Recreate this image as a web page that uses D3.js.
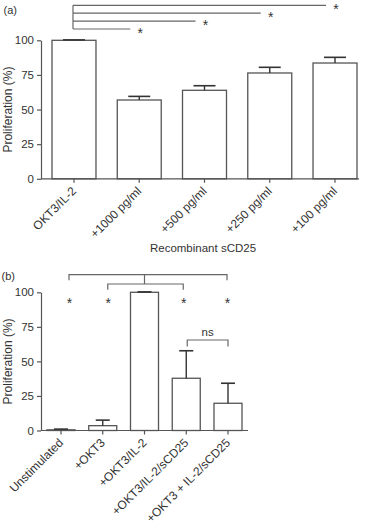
<!DOCTYPE html>
<html>
<head>
<meta charset="utf-8">
<script src="https://cdn.jsdelivr.net/npm/d3@7"></script>
<style>
body { margin: 0; background: #fff; }
svg text { font-family: "Liberation Sans", Arial, sans-serif; fill: #333; }
</style>
</head>
<body>
<svg id="chart" width="370" height="527"></svg>
<script>
var yTicks = [0, 25, 50, 75, 100];

// panel (a): recombinant sCD25 titration
var aCats = ['OKT3/IL-2', '+1000 pg/ml', '+500 pg/ml', '+250 pg/ml', '+100 pg/ml'];
var aVals = [100, 56.9, 63.9, 76.4, 83.6];
var aErr = [0.3, 2.6, 3.3, 4.1, 4.1];
var aSig = ['+100 pg/ml', '+250 pg/ml', '+500 pg/ml', '+1000 pg/ml']; // each vs OKT3/IL-2, top line first

// panel (b)
var bCats = ['Unstimulated', '+OKT3', '+OKT3/IL-2', '+OKT3/IL-2/sCD25', '+OKT3 + IL-2/sCD25'];
var bVals = [0.5, 3.5, 100, 37.8, 19.7];
var bErr = [0.5, 4, 0.3, 19.9, 14.5];
var bOuter = ['Unstimulated', '+OKT3 + IL-2/sCD25'];
var bInner = ['+OKT3', '+OKT3/IL-2/sCD25'];
var bNs = ['+OKT3/IL-2/sCD25', '+OKT3 + IL-2/sCD25'];

var svg = d3.select('#chart');
var lineCol = '#666';

var panel = function(o) {
  var g = svg.append('g');
  var y = d3.scaleLinear().domain([0, 100]).range([o.y0, o.y100]);
  var x = d3.scaleBand().domain(o.cats).range(o.barRange).paddingInner(o.pad).paddingOuter(0);
  var bw = x.bandwidth();
  var cx = function(c) { return x(c) + bw / 2; };

  g.selectAll('rect.bar')
    .data(o.vals)
    .enter().append('rect')
    .attr('class', 'bar')
    .attr('x', function(d, i) { return x(o.cats[i]); })
    .attr('y', function(d) { return y(d); })
    .attr('width', bw)
    .attr('height', function(d) { return y(0) - y(d); })
    .attr('fill', '#fff')
    .attr('stroke', '#555')
    .attr('stroke-width', 1.3);

  // error bars (upper only)
  o.vals.forEach(function(v, i) {
    var c = cx(o.cats[i]), top = y(v + o.err[i]);
    g.append('line').attr('x1', c).attr('x2', c).attr('y1', y(v)).attr('y2', top)
      .attr('stroke', '#333').attr('stroke-width', 1.4);
    g.append('line').attr('x1', c - bw / 4).attr('x2', c + bw / 4).attr('y1', top).attr('y2', top)
      .attr('stroke', '#333').attr('stroke-width', 1.6);
  });

  var ya = g.append('g')
    .attr('transform', 'translate(' + o.axisX + ',0)')
    .call(d3.axisLeft(y).tickValues(yTicks).tickSize(4).tickPadding(3).tickSizeOuter(0));
  ya.attr('font-family', null).attr('font-size', null).attr('color', '#555');
  ya.selectAll('path, line').attr('stroke-width', 1.2);
  ya.selectAll('text').style('font-size', '11.5px');

  // x baseline + ticks
  g.append('line').attr('x1', o.axisX).attr('x2', o.axisEnd).attr('y1', y(0)).attr('y2', y(0))
    .attr('stroke', '#555').attr('stroke-width', 1.2);
  o.cats.forEach(function(c) {
    g.append('line').attr('x1', cx(c)).attr('x2', cx(c)).attr('y1', y(0)).attr('y2', y(0) + 4)
      .attr('stroke', '#555').attr('stroke-width', 1.2);
    g.append('text')
      .attr('transform', 'translate(' + (cx(c) + 3) + ',' + (y(0) + 13) + ') rotate(-45)')
      .attr('text-anchor', 'end')
      .style('font-size', '12px')
      .text(c);
  });

  g.append('text')
    .attr('transform', 'translate(12,' + ((o.y0 + o.y100) / 2) + ') rotate(-90)')
    .attr('text-anchor', 'middle')
    .style('font-size', '12px')
    .text('Proliferation (%)');

  g.append('text').attr('x', o.tagX).attr('y', o.tagY).style('font-size', '11px').text(o.tag);

  return {g: g, x: cx, y: y};
};

var star = function(g, px, py) {
  g.append('text').attr('x', px).attr('y', py + 8).attr('text-anchor', 'middle')
    .style('font-size', '14px').text('*');
};

// ---- (a)
var pa = panel({cats: aCats, vals: aVals, err: aErr, y0: 178.8, y100: 40.3,
  barRange: [52, 357], pad: 0.326, axisX: 41, axisEnd: 359, tag: '(a)', tagX: 3.5, tagY: 13.5});

pa.g.append('text').attr('x', 203).attr('y', 252).attr('text-anchor', 'middle')
  .style('font-size', '11.5px').text('Recombinant sCD25');

var aRef = pa.x(aCats[0]) - 1;
aSig.forEach(function(c, i) {
  var ly = 5.3 + i * 7.9;
  pa.g.append('line').attr('x1', aRef).attr('x2', pa.x(c) - 9).attr('y1', ly).attr('y2', ly)
    .attr('stroke', lineCol).attr('stroke-width', 1.2);
  star(pa.g, pa.x(c) + 1, ly + 1);
});
pa.g.append('line').attr('x1', aRef).attr('x2', aRef).attr('y1', 5.3).attr('y2', 5.3 + 3 * 7.9)
  .attr('stroke', lineCol).attr('stroke-width', 1.2);

// ---- (b)
var pb = panel({cats: bCats, vals: bVals, err: bErr, y0: 430.5, y100: 292.3,
  barRange: [47, 242], pad: 0.329, axisX: 41, axisEnd: 248, tag: '(b)', tagX: 1.5, tagY: 280});

var bracket = function(g, x1, x2, by, leg) {
  g.append('path')
    .attr('d', 'M' + x1 + ',' + (by + leg) + 'V' + by + 'H' + x2 + 'V' + (by + leg))
    .attr('fill', 'none').attr('stroke', lineCol).attr('stroke-width', 1.2);
};
// outer / inner brackets with centre stem to the OKT3/IL-2 bar
var oL = pb.x(bOuter[0]) + 8, oR = pb.x(bOuter[1]) - 1;
var iL = pb.x(bInner[0]) + 5, iR = pb.x(bInner[1]) - 3;
bracket(pb.g, oL, oR, 274.7, 5.5);
bracket(pb.g, iL, iR, 284, 5.7);
var mid = pb.x(bCats[2]);
pb.g.append('line').attr('x1', mid).attr('x2', mid).attr('y1', 274.7).attr('y2', 284)
  .attr('stroke', lineCol).attr('stroke-width', 1.2);
[oL, iL, iR, oR].forEach(function(sx) { star(pb.g, sx + 0.5, 299.7); });

// ns bracket
var nL = pb.x(bNs[0]) + 1, nR = pb.x(bNs[1]);
bracket(pb.g, nL, nR, 340, 6.5);
pb.g.append('text').attr('x', (nL + nR) / 2).attr('y', 336).attr('text-anchor', 'middle')
  .style('font-size', '11.5px').text('ns');
</script>
</body>
</html>
